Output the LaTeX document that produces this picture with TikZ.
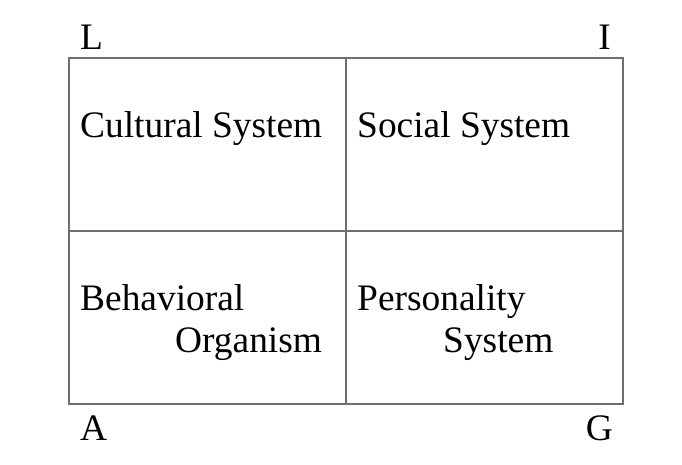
\documentclass[tikz,border=0pt]{standalone}
\usepackage{fontspec}
\setmainfont{Liberation Serif}
\begin{document}
\begin{tikzpicture}[x=1pt,y=-1pt,
  lbl/.style={inner sep=0pt,font=\fontsize{37.4}{40}\selectfont},
  frame/.style={draw={rgb,255:red,110;green,110;blue,110},line width=1.3pt}]
\useasboundingbox (0,0) rectangle (682,464);
\coordinate (tl) at (69,58);
\coordinate (br) at (623,404);
\coordinate (tm) at (346,58);
\coordinate (bm) at (346,404);
\coordinate (ml) at (69,231);
\coordinate (mr) at (623,231);
\draw[frame] (tl) rectangle (br);
\draw[frame] (tm) -- (bm);
\draw[frame] (ml) -- (mr);
\node[lbl,anchor=base west] (L) at (80,49) {L};
\node[lbl,anchor=base east] (I) at (611,49) {I};
\node[lbl,anchor=base west] (A) at (80,440) {A};
\node[lbl,anchor=base east] (G) at (613,440) {G};
\node[lbl,anchor=base west] (cult) at (80,137) {Cultural System};
\node[lbl,anchor=base west] (soc) at (357,137) {Social System};
\node[lbl,anchor=base west] (beh) at (80,310) {Behavioral};
\node[lbl,anchor=base west] (org) at (175,352) {Organism};
\node[lbl,anchor=base west] (pers) at (357,310) {Personality};
\node[lbl,anchor=base west] (sys) at (443,352) {System};
\end{tikzpicture}
\end{document}
